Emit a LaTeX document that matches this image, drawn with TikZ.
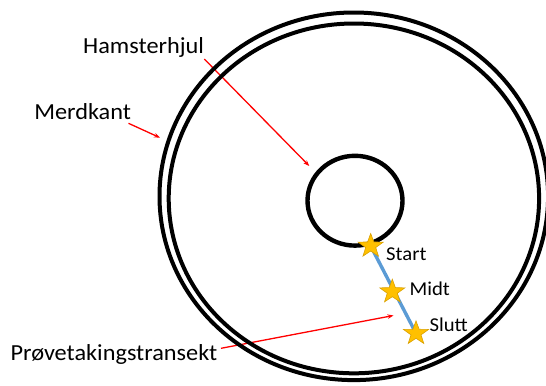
\documentclass[tikz,border=0pt]{standalone}
\usepackage{fontspec}
\setmainfont{Carlito}
\usetikzlibrary{shapes.geometric,arrows.meta}
\definecolor{ringblack}{HTML}{000000}
\definecolor{transblue}{HTML}{5B9BD5}
\definecolor{stargold}{HTML}{FFC000}
\definecolor{stardark}{HTML}{D9A000}
\definecolor{arrowred}{HTML}{FF0000}
\tikzset{
  ring/.style={draw=ringblack, line width=4bp},
  hub/.style={draw=ringblack, line width=4.4bp},
  pointer/.style={draw=arrowred, line width=1.3bp, -{Stealth[length=6bp,width=4.5bp]}},
  bigtxt/.style={inner sep=0pt, anchor=base west, xscale=1.056, font=\fontsize{23bp}{27bp}\selectfont},
  smalltxt/.style={inner sep=0pt, anchor=base west, xscale=1.056, font=\fontsize{19.6bp}{23bp}\selectfont},
  goldstar/.style={star, star points=5, star point ratio=2.5, minimum size=25bp, inner sep=0pt,
    fill=stargold, draw=stardark, line width=0.6bp, xscale=1.056},
  transect/.style={draw=transblue, line width=3.4bp}
}
\begin{document}
\begin{tikzpicture}[x=1bp,y=-1bp]
\useasboundingbox (0,0) rectangle (546,385);
\clip (0,0) rectangle (546,385);
% labels
\node[bigtxt] (hamlbl) at (83,53.3) {Hamsterhjul};
\node[bigtxt] (merdlbl) at (34.1,119) {Merdkant};
\node[bigtxt] (provlbl) at (10.4,360) {Prøvetakingstransekt};
% arrow coordinates
\coordinate (hamA) at (204.3,59);
\coordinate (hamB) at (309.3,166);
\coordinate (merdA) at (128.5,123.3);
\coordinate (merdB) at (160,137.7);
\coordinate (provA) at (221,348.3);
\coordinate (provB) at (393.5,315.5);
\draw[pointer] (hamA) -- (hamB);
\draw[pointer] (merdA) -- (merdB);
\draw[pointer] (provA) -- (provB);
% rings
\coordinate (outerc) at (353.8,196.3);
\coordinate (innerc) at (353.9,198.4);
\coordinate (hubc) at (355,200.7);
\draw[ring] (outerc) ellipse [x radius=194.3, y radius=183.8];
\draw[ring] (innerc) ellipse [x radius=185.2, y radius=174.9];
\draw[hub] (hubc) ellipse [x radius=47.5, y radius=44.9];
% transect
\coordinate (startc) at (370.7,246);
\coordinate (midtc) at (392.3,291.7);
\coordinate (sluttc) at (416,333.3);
\draw[transect] (startc) -- (sluttc);
\node[goldstar] (startstar) at (startc) {};
\node[goldstar] (midtstar) at (midtc) {};
\node[goldstar] (sluttstar) at (sluttc) {};
\node[smalltxt] (startlbl) at (386,260.7) {Start};
\node[smalltxt] (midtlbl) at (409.4,295.7) {Midt};
\node[smalltxt] (sluttlbl) at (429.3,331.7) {Slutt};
\end{tikzpicture}
\end{document}
